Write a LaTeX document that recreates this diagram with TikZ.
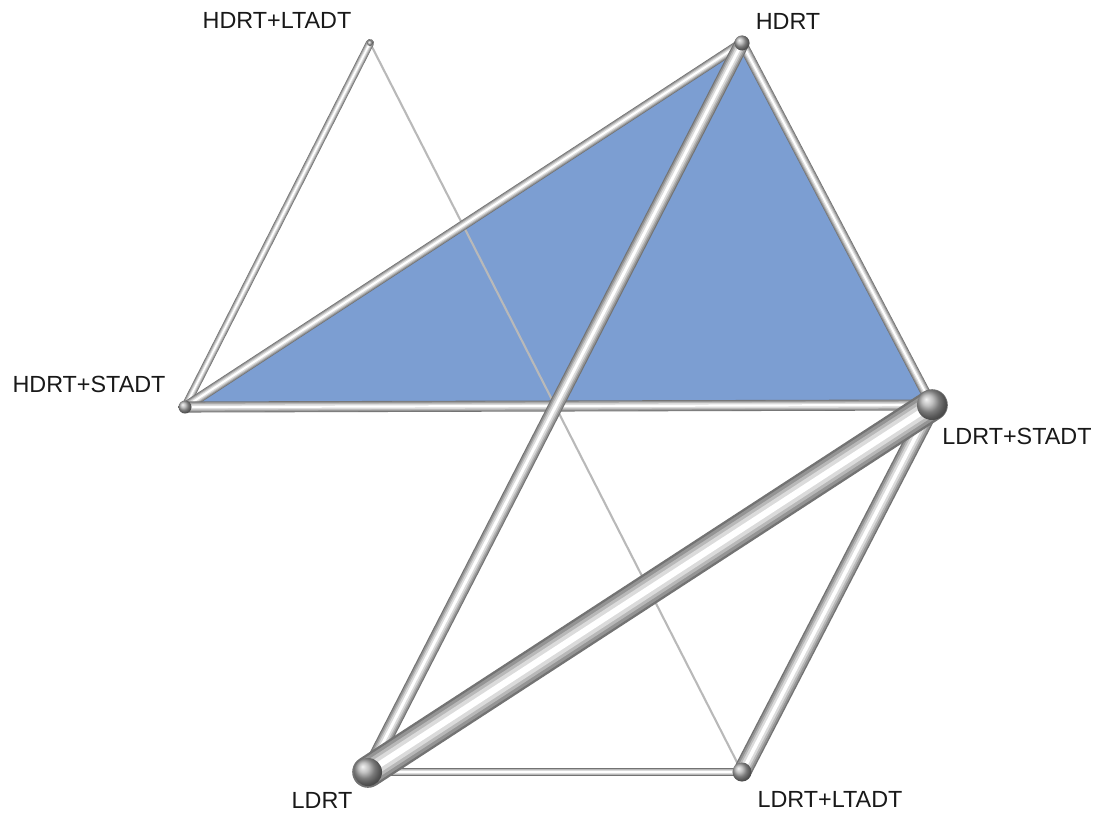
\documentclass[tikz,border=0pt]{standalone}
\usepackage{fontspec}
\setmainfont{Liberation Sans}
\usetikzlibrary{positioning, backgrounds}
\definecolor{netblue}{RGB}{124,158,210}
\tikzstyle{trt} = [circle, inner sep=0pt, shading=ball, ball color=gray!65]
\tikzstyle{tag} = [font=\fontsize{13.3}{16}\selectfont, inner sep=0pt, text=black!90]
\tikzstyle{thinline} = [line width=1.2pt, draw=gray!55]
\tikzset{tube/.style={line width=#1, draw=black!55, line cap=round,
    postaction={draw=black!42, line width=0.85*#1, line cap=round},
    postaction={draw=black!28, line width=0.65*#1, line cap=round},
    postaction={draw=black!14, line width=0.45*#1, line cap=round},
    postaction={draw=white, line width=0.2*#1, line cap=round}}}

\begin{document}
\begin{tikzpicture}[x=0.02cm, y=-0.02cm]
    \useasboundingbox (0,0) rectangle (1101,815);

    % treatments
    \node (hlt) [trt, minimum size=0.12cm] at (370,43) {};
    \node (hdrt) [trt, minimum size=0.3cm] at (742,43) {};
    \node (hst) [trt, minimum size=0.26cm] at (185,407) {};
    \node (lst) [trt, minimum size=0.6cm] at (932,405) {};
    \node (ldrt) [trt, minimum size=0.56cm] at (368,772) {};
    \node (llt) [trt, minimum size=0.38cm] at (742,772) {};

    \node (thlt) [tag] at (277,20) {HDRT+LTADT};
    \node (thdrt) [tag] at (788,21) {HDRT};
    \node (thst) [tag] at (89,384) {HDRT+STADT};
    \node (tlst) [tag] at (1017,436) {LDRT+STADT};
    \node (tldrt) [tag] at (322,800) {LDRT};
    \node (tllt) [tag] at (830,799) {LDRT+LTADT};

    \begin{scope}[on background layer]
        \fill [netblue] (hdrt.center) -- (hst.center) -- (lst.center) -- cycle;
        \draw [thinline] (hlt.center) -- (llt.center);
        \draw [tube=4.6pt] (hlt.center) -- (hst.center);
        \draw [tube=4.6pt] (ldrt.center) -- (llt.center);
        \draw [tube=5.6pt] (hdrt.center) -- (hst.center);
        \draw [tube=5.6pt] (hdrt.center) -- (lst.center);
        \draw [tube=6.3pt] (hst.center) -- (lst.center);
        \draw [tube=8.4pt] (hdrt.center) -- (ldrt.center);
        \draw [tube=10.5pt] (lst.center) -- (llt.center);
        \draw [tube=18pt] (lst.center) -- (ldrt.center);
    \end{scope}
\end{tikzpicture}
\end{document}
